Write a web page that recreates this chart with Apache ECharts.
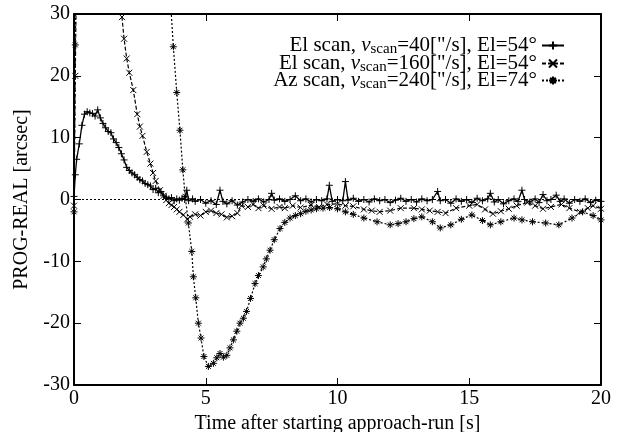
<!DOCTYPE html>
<html><head><meta charset="utf-8">
<script src="https://cdn.jsdelivr.net/npm/echarts@6/dist/echarts.min.js"></script>
<style>html,body{margin:0;padding:0;background:#fff}#c{width:617px;height:432px}</style>
</head><body><div id="c"></div>
<script>
// ---- data ----
const xTicks = [0, 5, 10, 15, 20];
const yTicks = [-30, -20, -10, 0, 10, 20, 30];
const seriesNames = [
  'El scan, v_scan=40["/s], El=54°',
  'El scan, v_scan=160["/s], El=54°',
  'Az scan, v_scan=240["/s], El=74°'
];
// El scan 40"/s  [time s, PROG-REAL arcsec]
const el40 = [
 [0.0,0.5],[0.05,4],[0.1,6.5],[0.2,9],[0.3,12],[0.4,13.8],[0.5,14.2],[0.6,14.0],[0.7,13.9],[0.8,13.5],
 [0.9,14.5],[1.0,13.2],[1.1,12.3],[1.2,11.6],[1.3,11.0],[1.4,10.8],[1.5,9.8],[1.6,9.2],[1.7,8.4],[1.8,7.4],
 [1.9,6.4],[2.0,5.2],[2.1,4.7],[2.2,4.3],[2.3,4.0],[2.4,3.6],[2.5,3.2],[2.6,3.0],[2.7,2.6],[2.8,2.4],
 [2.9,2.2],[3.0,1.6],[3.1,1.8],[3.2,1.1],[3.3,1.3],[3.4,0.6],[3.5,0.4],[3.6,0.1],[3.7,0.3],[3.8,-0.2],
 [3.9,0.1],[4.0,-0.1],[4.1,0.2],[4.2,0.0],[4.28,1.5],[4.35,-0.2],[4.5,0.1],[4.6,-0.3],[4.8,0.0],[5.0,-0.6],
 [5.2,-0.2],[5.4,-0.8],[5.54,1.5],[5.65,-0.3],[5.8,-0.7],[6.0,-0.2],[6.2,-0.9],[6.4,-0.4],[6.6,0.0],[6.8,-0.3],
 [7.0,0.1],[7.2,-0.4],[7.4,0.0],[7.5,1.0],[7.6,-0.1],[7.8,0.1],[8.0,-0.3],[8.2,0.0],[8.4,0.6],[8.6,-0.2],
 [8.8,0.1],[9.0,-0.4],[9.2,0.0],[9.4,-0.2],[9.6,0.1],[9.69,2.3],[9.8,-0.3],[10.0,0.0],[10.2,-0.2],[10.3,2.9],
 [10.4,-0.1],[10.6,0.2],[10.8,-0.3],[11.0,0.0],[11.2,-0.4],[11.4,0.1],[11.6,-0.2],[11.8,0.0],[12.0,-0.5],[12.2,-0.1],
 [12.4,0.2],[12.6,-0.3],[12.8,0.0],[13.0,-0.4],[13.2,0.1],[13.4,-0.2],[13.6,0.0],[13.8,1.3],[13.9,-0.2],[14.1,0.0],
 [14.3,-0.6],[14.5,0.1],[14.7,-0.3],[14.9,0.0],[15.1,-0.5],[15.3,0.2],[15.5,-0.2],[15.7,0.1],[15.8,1.0],[15.95,-0.4],
 [16.1,0.0],[16.3,-0.7],[16.5,-0.2],[16.7,0.1],[16.85,-0.3],[17.0,1.5],[17.1,0.0],[17.3,-0.4],[17.5,0.1],[17.65,-0.5],
 [17.8,0.8],[17.95,-0.2],[18.1,0.0],[18.3,0.7],[18.45,-0.3],[18.6,0.1],[18.8,-0.6],[19.0,0.0],[19.2,-0.3],[19.4,0.1],
 [19.6,-0.5],[19.8,-0.1],[20.0,-0.3]
];
// El scan 160"/s
const el160 = [
 [0.0,-1],[0.05,20],[0.1,40],[0.5,60],[1.5,45],[1.7,34],[1.82,29.5],[1.9,26],[2.0,22.8],[2.1,20.5],
 [2.25,17.7],[2.4,13.8],[2.5,11.8],[2.6,10.3],[2.76,7.7],[2.9,5.8],[3.0,4.3],[3.1,3.0],[3.26,1.5],[3.4,0.6],
 [3.5,-0.1],[3.6,-0.6],[3.7,-0.9],[3.8,-1.2],[3.9,-1.6],[4.0,-2.0],[4.15,-2.5],[4.3,-3.2],[4.4,-2.8],[4.6,-2.4],
 [4.8,-2.6],[5.0,-2.0],[5.2,-1.8],[5.4,-2.2],[5.6,-2.4],[5.8,-2.9],[6.0,-2.7],[6.2,-2.2],[6.36,-1.0],[6.6,-1.2],
 [6.8,-0.8],[7.0,-1.4],[7.2,-1.0],[7.5,-1.5],[7.8,-1.2],[8.0,-1.4],[8.3,-1.0],[8.6,-1.3],[9.0,-0.9],[9.3,-1.2],
 [9.6,-0.8],[10.0,-0.7],[10.3,-1.0],[10.6,-1.1],[11.0,-1.6],[11.3,-1.8],[11.6,-2.0],[12.0,-1.8],[12.4,-1.4],[12.9,-1.4],
 [13.2,-1.6],[13.5,-1.8],[13.8,-2.0],[14.1,-2.2],[14.5,-1.4],[15.0,-1.0],[15.3,-0.8],[15.6,-1.6],[15.9,-2.3],[16.2,-1.9],
 [16.5,-1.5],[16.8,-1.0],[17.2,-0.5],[17.5,-1.0],[17.8,-1.5],[18.1,-1.2],[18.5,-0.8],[18.8,-1.4],[19.2,-2.0],[19.5,-1.4],
 [19.7,-1.0],[20.0,-1.5]
];
// Az scan 240"/s
const az240 = [
 [0.0,-2],[0.05,25],[0.1,50],[1.0,80],[3.0,80],[3.5,50],[3.65,33],[3.77,24.7],[3.9,17.3],[4.02,11.2],
 [4.13,4.8],[4.22,0.5],[4.34,-3.8],[4.47,-8.4],[4.53,-12.5],[4.62,-15.9],[4.72,-20.0],[4.82,-22.4],[4.93,-25.4],[5.1,-27.0],
 [5.29,-26.5],[5.42,-25.6],[5.54,-24.9],[5.67,-25.5],[5.8,-25.2],[5.92,-24.0],[6.05,-22.7],[6.18,-21.3],[6.3,-20.0],[6.43,-19.2],
 [6.55,-18.1],[6.7,-16.0],[6.87,-13.6],[7.0,-12.3],[7.18,-10.9],[7.3,-9.6],[7.44,-8.2],[7.6,-6.5],[7.82,-4.7],[8.0,-3.7],
 [8.2,-3.0],[8.4,-2.6],[8.6,-2.3],[8.8,-1.9],[9.0,-1.7],[9.2,-1.5],[9.45,-1.4],[9.7,-1.3],[10.0,-1.5],[10.3,-2.0],
 [10.6,-2.4],[11.0,-3.0],[11.5,-3.6],[12.0,-4.1],[12.3,-3.9],[12.6,-3.6],[12.9,-3.1],[13.2,-2.8],[13.6,-3.6],[13.9,-4.6],
 [14.3,-4.1],[14.7,-3.2],[15.1,-2.5],[15.5,-3.4],[15.8,-4.1],[16.2,-3.6],[16.7,-3.0],[17.0,-3.3],[17.4,-3.6],[17.9,-3.8],
 [18.4,-4.1],[18.9,-3.0],[19.3,-2.0],[19.7,-2.6],[20.0,-3.3]
];

// ---- chart ----
const FONT = 'Liberation Serif';
const FS = 20;
const symPlus = 'path://M0,5L10,5M5,0L5,10';
const symX = 'path://M0,0L10,10M10,0L0,10';
const symStar = 'path://M5,0L5,10M0,5L10,5M1.5,1.5L8.5,8.5M8.5,1.5L1.5,8.5';
const richFmt = {
  [seriesNames[0]]: 'El scan, {i|v}{s|scan}=40["/s], El=54°',
  [seriesNames[1]]: 'El scan, {i|v}{s|scan}=160["/s], El=54°',
  [seriesNames[2]]: 'Az scan, {i|v}{s|scan}=240["/s], El=74°'
};
const rich = {
  i: {fontFamily: FONT, fontSize: 21, fontStyle: 'italic', color: '#000'},
  s: {fontFamily: FONT, fontSize: 15, color: '#000', verticalAlign: 'bottom', padding: [7, 0, 0, 0]}
};
function legend(idx, top) {
  return {
    data: [seriesNames[idx]], right: 52, top: top, orient: 'vertical', align: 'right',
    itemWidth: 22, itemHeight: 10, itemGap: 0, padding: 0,
    textStyle: {fontFamily: FONT, fontSize: 21, color: '#000', rich: rich},
    formatter: n => richFmt[n]
  };
}
const axisCommon = {
  type: 'value', splitLine: {show: false},
  axisLine: {show: true, onZero: false, lineStyle: {color: '#000', width: 2}},
  axisTick: {show: true, inside: true, length: 7, lineStyle: {color: '#000', width: 1}},
  axisLabel: {fontFamily: FONT, fontSize: FS, color: '#000'}
};
const chart = echarts.init(document.getElementById('c'));
chart.setOption({
  animation: false,
  backgroundColor: '#fff',
  grid: {left: 74, right: 16, top: 14, bottom: 47, containLabel: false, outerBoundsMode: 'none'},
  legend: [legend(0, 35), legend(1, 53), legend(2, 70)],
  xAxis: [
    Object.assign({}, axisCommon, {min: 0, max: 20, interval: 5, position: 'bottom',
      axisLabel: Object.assign({}, axisCommon.axisLabel, {margin: 4}),
      name: 'Time after starting approach-run [s]', nameLocation: 'middle', nameGap: 26,
      nameTextStyle: {fontFamily: FONT, fontSize: FS, color: '#000'}}),
    Object.assign({}, axisCommon, {min: 0, max: 20, interval: 5, position: 'top', axisLabel: {show: false}})
  ],
  yAxis: [
    Object.assign({}, axisCommon, {min: -30, max: 30, interval: 10, position: 'left',
      axisLabel: Object.assign({}, axisCommon.axisLabel, {margin: 4}),
      name: 'PROG-REAL [arcsec]', nameLocation: 'middle', nameGap: 42,
      nameTextStyle: {fontFamily: FONT, fontSize: FS, color: '#000'}}),
    Object.assign({}, axisCommon, {min: -30, max: 30, interval: 10, position: 'right', axisLabel: {show: false}})
  ],
  series: [
    {name: seriesNames[0], type: 'line', data: el40, clip: true, z: 5,
     symbol: symPlus, symbolSize: 7,
     itemStyle: {color: 'transparent', borderColor: '#000', borderWidth: 1},
     lineStyle: {color: '#000', width: 1.3, type: 'solid'},
     markLine: {silent: true, symbol: 'none', label: {show: false},
       lineStyle: {color: '#000', type: [2, 2], width: 1.2}, data: [{yAxis: 0}]}},
    {name: seriesNames[1], type: 'line', data: el160, clip: true, z: 4,
     symbol: symX, symbolSize: 6,
     itemStyle: {color: 'transparent', borderColor: '#000', borderWidth: 1},
     lineStyle: {color: '#000', width: 1.2, type: [4, 2]}},
    {name: seriesNames[2], type: 'line', data: az240, clip: true, z: 3,
     symbol: symStar, symbolSize: 7,
     itemStyle: {color: 'transparent', borderColor: '#000', borderWidth: 1},
     lineStyle: {color: '#000', width: 1.2, type: [2, 2]}}
  ]
});
</script></body></html>
